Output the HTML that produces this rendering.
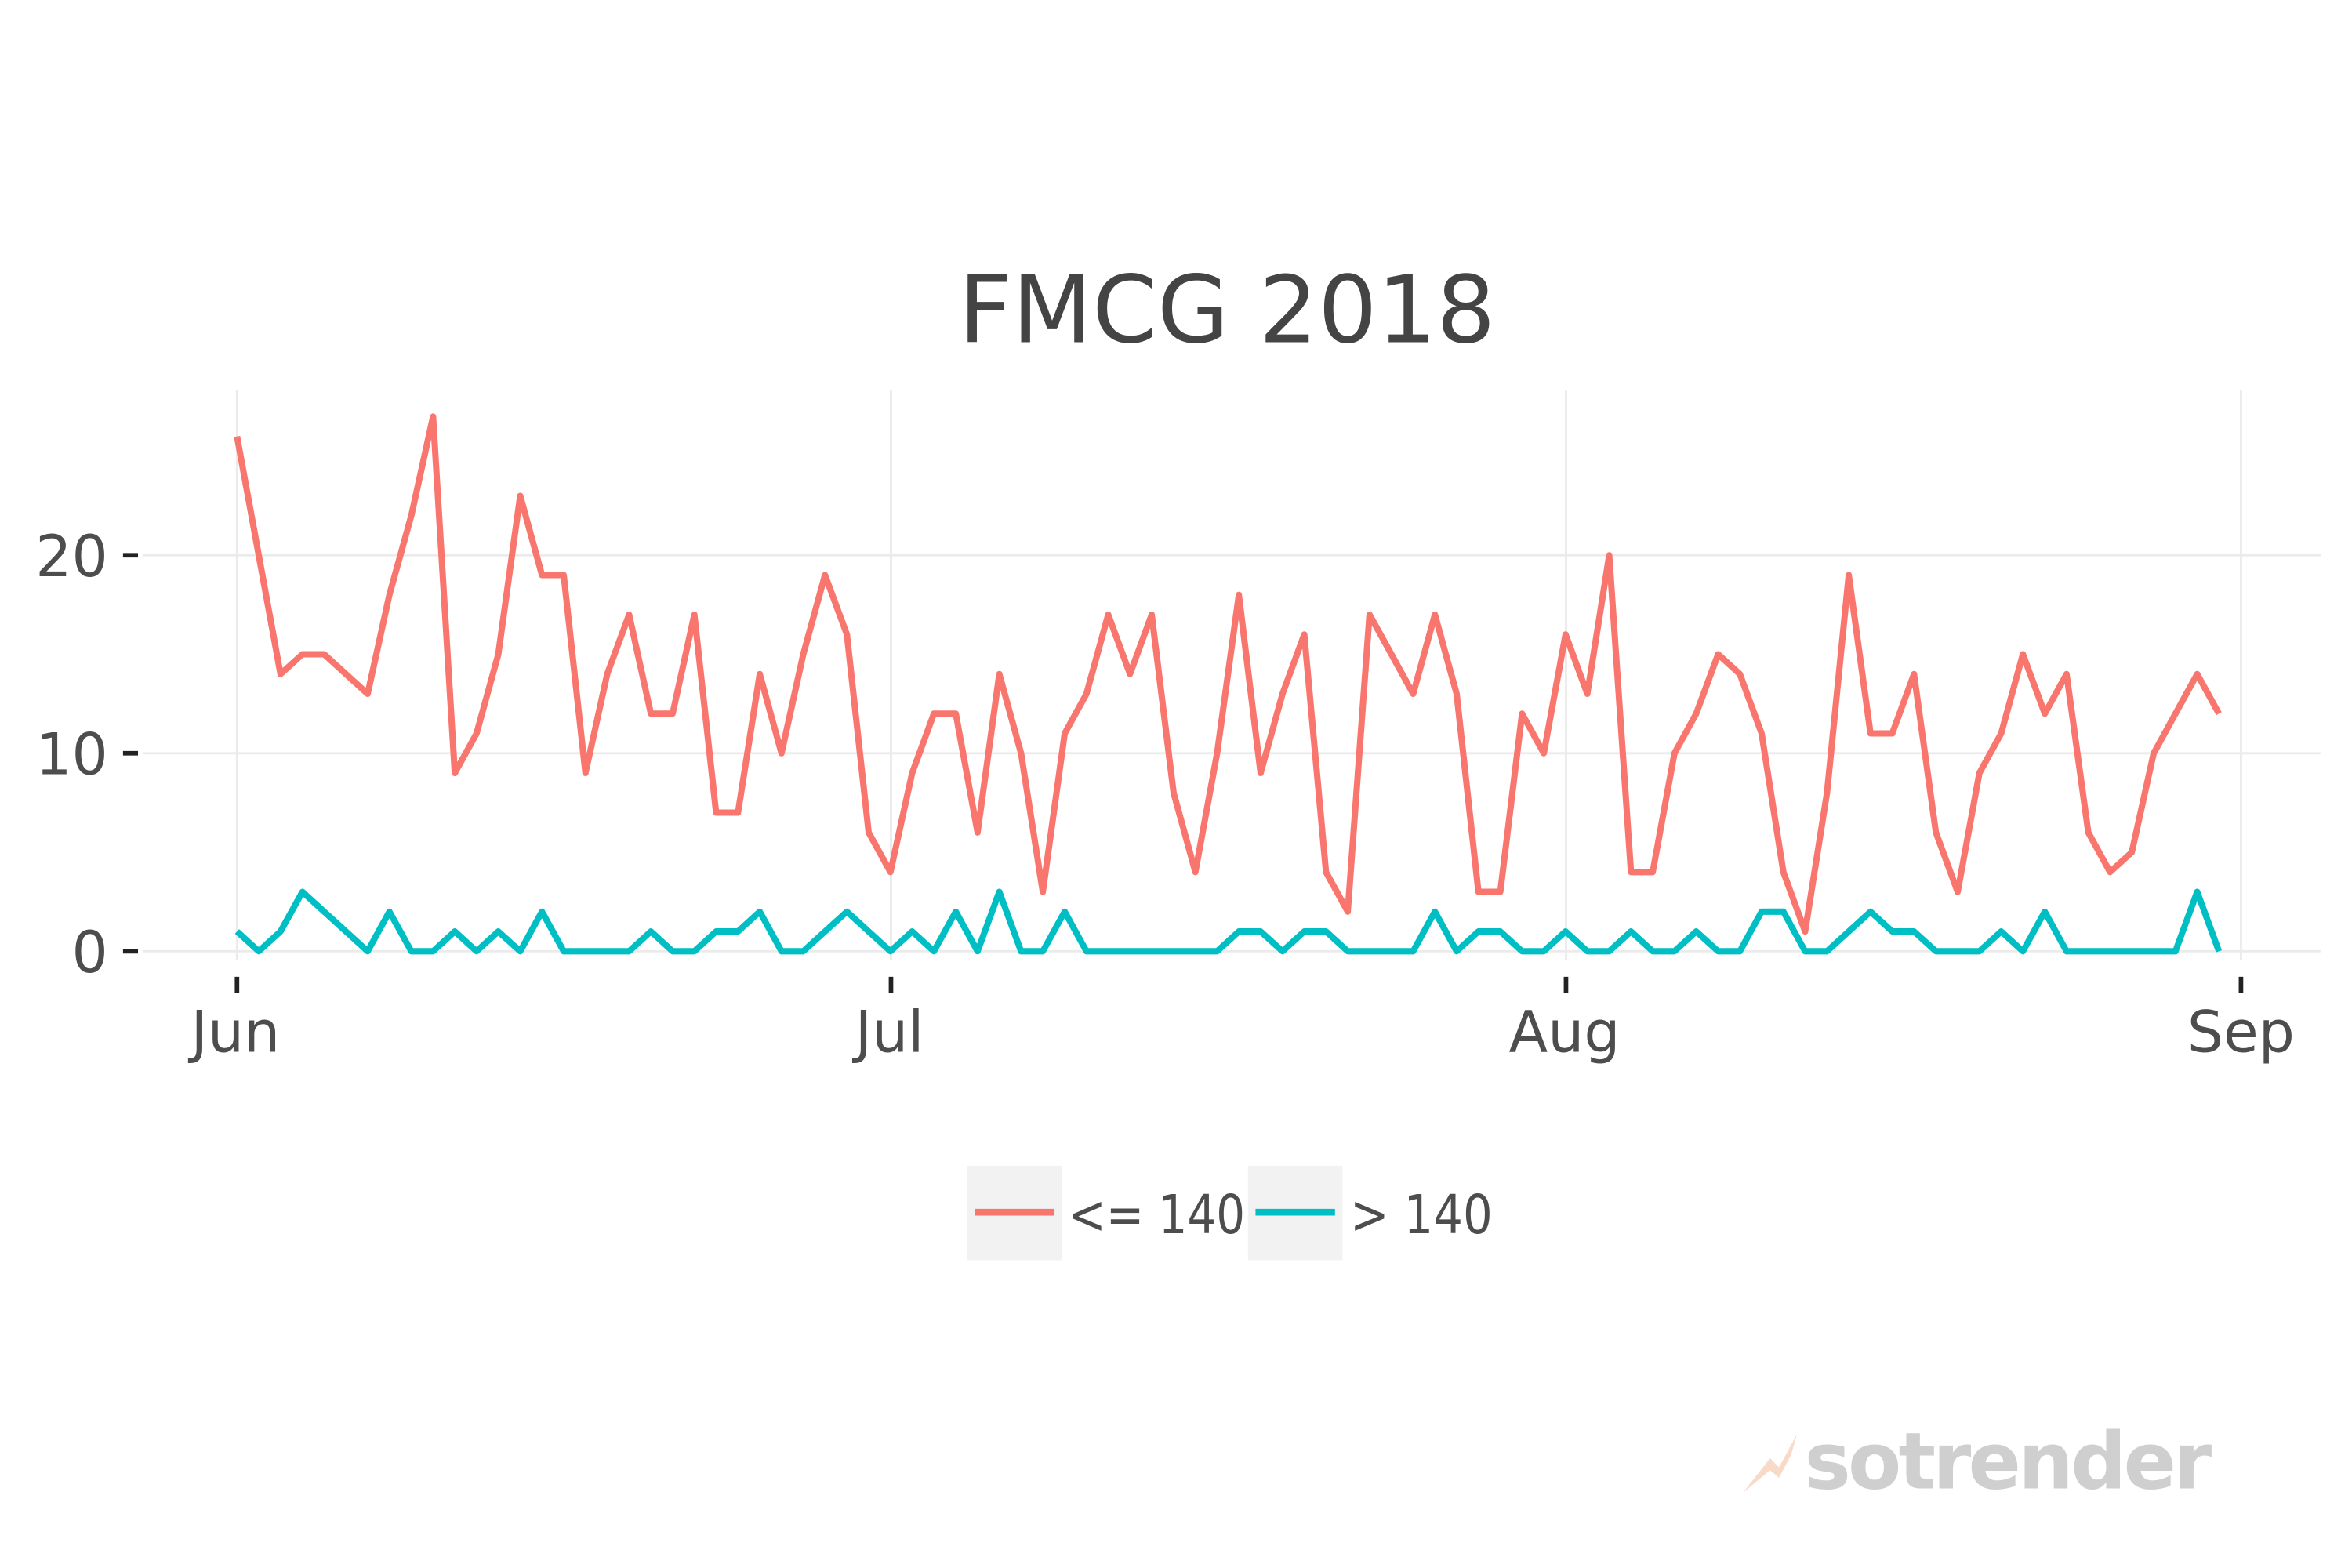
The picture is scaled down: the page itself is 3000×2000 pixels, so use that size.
<!DOCTYPE html>
<html><head><meta charset="utf-8"><style>
html,body{margin:0;padding:0;background:#fff;}
svg{display:block;}
text{font-family:"DejaVu Sans","Liberation Sans",sans-serif;}
</style></head><body>
<svg id="s" width="3000" height="2000" viewBox="0 0 1568 1045" xmlns="http://www.w3.org/2000/svg">
<rect width="1568" height="1045" fill="#fff"/>
<g stroke="#ebebeb" stroke-width="1.5">
<line x1="158" y1="260" x2="158" y2="640"/>
<line x1="594" y1="260" x2="594" y2="640"/>
<line x1="1044" y1="260" x2="1044" y2="640"/>
<line x1="1494" y1="260" x2="1494" y2="640"/>
<line x1="95" y1="370" x2="1547" y2="370"/>
<line x1="95" y1="502" x2="1547" y2="502"/>
<line x1="95" y1="634" x2="1547" y2="634"/>
</g>
<g stroke="#222" stroke-width="3">
<line x1="82" y1="370" x2="92" y2="370"/>
<line x1="82" y1="502" x2="92" y2="502"/>
<line x1="82" y1="634" x2="92" y2="634"/>
<line x1="158" y1="651" x2="158" y2="662"/>
<line x1="594" y1="651" x2="594" y2="662"/>
<line x1="1044" y1="651" x2="1044" y2="662"/>
<line x1="1494" y1="651" x2="1494" y2="662"/>
</g>
<g fill="#4d4d4d" font-size="38">
<text x="72" y="384" text-anchor="end">20</text>
<text x="72" y="516" text-anchor="end">10</text>
<text x="72" y="648" text-anchor="end">0</text>
<text x="157" y="701" text-anchor="middle">Jun</text>
<text x="593" y="701" text-anchor="middle">Jul</text>
<text x="1043" y="701" text-anchor="middle">Aug</text>
<text x="1494" y="701" text-anchor="middle">Sep</text>
</g>
<text x="818" y="228" text-anchor="middle" font-size="62" fill="#444">FMCG 2018</text>
<polyline id="red" fill="none" stroke="#f8766d" stroke-width="4.2" stroke-linejoin="round"/>
<polyline id="teal" fill="none" stroke="#00bfc4" stroke-width="4.2" stroke-linejoin="round"/>
<rect x="645" y="777" width="63" height="63" fill="#f2f2f2"/>
<rect x="832" y="777" width="63" height="63" fill="#f2f2f2"/>
<line x1="650" y1="808" x2="703" y2="808" stroke="#f8766d" stroke-width="4.5"/>
<line x1="837" y1="808" x2="890" y2="808" stroke="#00bfc4" stroke-width="4.5"/>
<text x="712" y="822" font-size="36" fill="#4d4d4d" textLength="118" lengthAdjust="spacingAndGlyphs">&lt;= 140</text>
<text x="900" y="822" font-size="36" fill="#4d4d4d" textLength="95" lengthAdjust="spacingAndGlyphs">&gt; 140</text>
<path d="M1162 995 L1180 972 L1186 978 L1198 956 L1194 970 L1186 985 L1180 980 Z" fill="#f9d9c8"/>
<text x="1203" y="992" font-size="52" font-weight="bold" fill="#cfcfcf" letter-spacing="-2">sotrender</text>
</svg>
<script>
var r=[26,20,14,15,15,14,13,18,22,27,9,11,15,23,19,19,9,14,17,12,12,17,7,7,14,10,15,19,16,6,4,9,12,12,6,14,10,3,11,13,17,14,17,8,4,10,18,9,13,16,4,2,17,15,13,17,13,3,3,12,10,16,13,20,4,4,10,12,15,14,11,4,1,8,19,11,11,14,6,3,9,11,15,12,14,6,4,5,10,12,14,12];
var t=[1,0,1,3,2,1,0,2,0,0,1,0,1,0,2,0,0,0,0,1,0,0,1,1,2,0,0,1,2,1,0,1,0,2,0,3,0,0,2,0,0,0,0,0,0,0,1,1,0,1,1,0,0,0,0,2,0,1,1,0,0,1,0,0,1,0,0,1,0,0,2,2,0,0,1,2,1,1,0,0,0,1,0,2,0,0,0,0,0,0,3,0];
function p(a){return a.map(function(v,i){return (158+i*14.52).toFixed(1)+","+(634-v*13.2).toFixed(1)}).join(" ");}
document.getElementById("red").setAttribute("points",p(r));
document.getElementById("teal").setAttribute("points",p(t));
</script>
</body></html>
